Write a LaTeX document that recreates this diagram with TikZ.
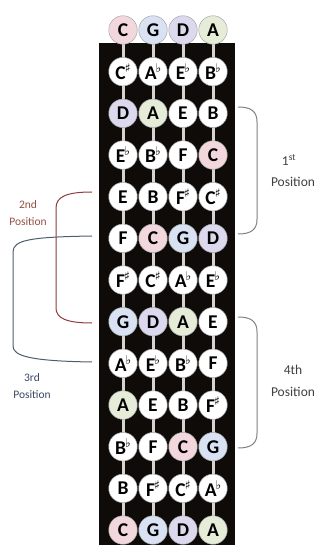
\documentclass[tikz,border=0pt]{standalone}
\usepackage{fontspec}
\setmainfont{Carlito}
\newfontfamily\accfont{DejaVu Sans}
\usetikzlibrary{backgrounds}
\definecolor{cpink}{RGB}{242,216,221}
\definecolor{gblue}{RGB}{216,226,243}
\definecolor{dlav}{RGB}{220,217,238}
\definecolor{agreen}{RGB}{229,236,215}
\definecolor{boardcol}{RGB}{14,11,8}
\definecolor{strcol}{RGB}{214,212,206}
\definecolor{brkgray}{RGB}{128,128,128}
\definecolor{brkred}{RGB}{140,62,62}
\definecolor{brkblue}{RGB}{80,92,110}
\definecolor{labgray}{RGB}{64,64,64}
\definecolor{labred}{RGB}{150,78,68}
\definecolor{labblue}{RGB}{58,72,100}
\newcommand{\mysharp}[1]{#1\kern-1pt\raisebox{0.36em}{\accfont\fontsize{12}{12}\selectfont ♯}}
\newcommand{\myflat}[1]{#1\kern-1pt\raisebox{0.36em}{\accfont\fontsize{12}{12}\selectfont ♭}}
\tikzset{
  note/.style={circle,draw=gray!70,line width=0.5pt,minimum size=28.5pt,inner sep=0pt,
    font=\bfseries\fontsize{19.5}{19.5}\selectfont,fill=white},
  nw/.style={note},
  nC/.style={note,fill=cpink},
  nG/.style={note,fill=gblue},
  nD/.style={note,fill=dlav},
  nA/.style={note,fill=agreen},
  stringline/.style={draw=strcol,line width=3pt},
  bracketline/.style={line width=1pt},
  labtext/.style={font=\fontsize{13.5}{13.5}\selectfont,text=labgray,inner sep=0pt},
  smalllab/.style={font=\fontsize{11.5}{11.5}\selectfont,inner sep=0pt}
}
\begin{document}
\begin{tikzpicture}[x=1pt,y=-1pt]
\useasboundingbox (0,0) rectangle (321,545);
\foreach \row [count=\r from 0] in {
  {nC/C,nG/G,nD/D,nA/A},
  {nw/\mysharp{C},nw/\myflat{A},nw/\myflat{E},nw/\myflat{B}},
  {nD/D,nA/A,nw/E,nw/B},
  {nw/\myflat{E},nw/\myflat{B},nw/F,nC/C},
  {nw/E,nw/B,nw/\mysharp{F},nw/\mysharp{C}},
  {nw/F,nC/C,nG/G,nD/D},
  {nw/\mysharp{F},nw/\mysharp{C},nw/\myflat{A},nw/\myflat{E}},
  {nG/G,nD/D,nA/A,nw/E},
  {nw/\myflat{A},nw/\myflat{E},nw/\myflat{B},nw/F},
  {nA/A,nw/E,nw/B,nw/\mysharp{F}},
  {nw/\myflat{B},nw/F,nC/C,nG/G},
  {nw/B,nw/\mysharp{F},nw/\mysharp{C},nw/\myflat{A}},
  {nC/C,nG/G,nD/D,nA/A}}
{
  \foreach \s/\t [count=\c] in \row {
    \node[\s] (n\r-\c) at ({93+30*\c},{30+41.67*\r}) {\t};
  }
}
\begin{scope}[on background layer]
  \fill[boardcol] (99,43) rectangle (235,545);
  \foreach \c in {1,...,4}
    \draw[stringline] (n0-\c.center) -- (n12-\c.center);
\end{scope}
% right brackets
\draw[bracketline,draw=brkgray] (238,107) .. controls (252,107) and (257,112) .. (257,122)
  -- (257,219) .. controls (257,229) and (252,234) .. (238,234);
\draw[bracketline,draw=brkgray] (238,317) .. controls (252,317) and (257,322) .. (257,332)
  -- (257,433) .. controls (257,443) and (252,448) .. (238,448);
% left brackets
\draw[bracketline,draw=brkred] (92,192) .. controls (66,192) and (56,197) .. (56,208)
  -- (56,308) .. controls (56,318) and (66,323) .. (92,323);
\draw[bracketline,draw=brkblue] (92,236) .. controls (30,237) and (13,240) .. (13,252)
  -- (13,346) .. controls (13,356) and (30,361) .. (92,362);
% labels
\node[labtext] (l1a) at (289,160) {1\textsuperscript{st}};
\node[labtext] (l1b) at (293,182) {Position};
\node[labtext] (l4a) at (293,370) {4th};
\node[labtext] (l4b) at (293,392) {Position};
\node[smalllab,text=labred] (l2a) at (28,205) {2nd};
\node[smalllab,text=labred] (l2b) at (28,222) {Position};
\node[smalllab,text=labblue] (l3a) at (32,378) {3rd};
\node[smalllab,text=labblue] (l3b) at (32,395) {Position};
\end{tikzpicture}
\end{document}
